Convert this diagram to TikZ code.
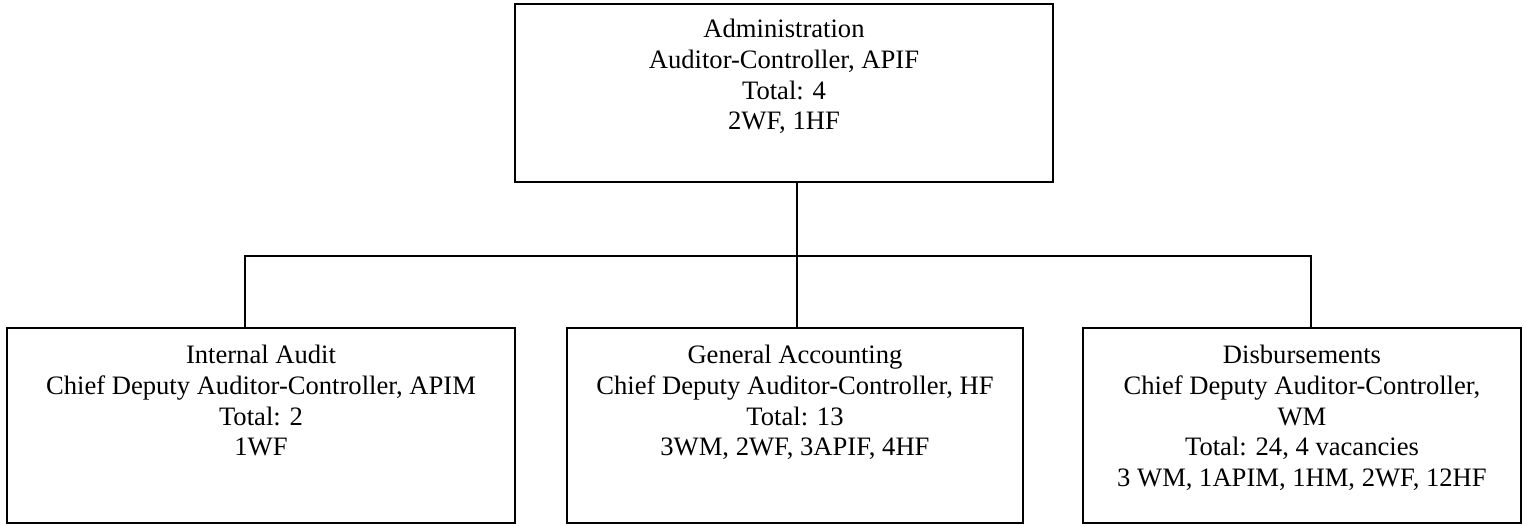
\documentclass[tikz,border=0pt]{standalone}
\usepackage{fontspec}
\setmainfont{Liberation Serif}
\usetikzlibrary{positioning}

\tikzset{
  unitbox/.style={draw, line width=1.4pt, inner sep=0pt},
  unittext/.style={anchor=north, align=center, inner sep=0pt,
    font=\fontsize{26.6}{30.6}\selectfont},
  link/.style={line width=1.4pt}
}

\begin{document}
\begin{tikzpicture}[x=1pt, y=-1pt]
  \useasboundingbox (0,0) rectangle (1527,526);
  % boxes
  \node[unitbox, minimum width=538, minimum height=178] (admin) at (784,93) {};
  \node[unitbox, minimum width=508, minimum height=195] (audit) at (261,425.5) {};
  \node[unitbox, minimum width=456, minimum height=195] (genacc) at (795,425.5) {};
  \node[unitbox, minimum width=438, minimum height=195] (disb) at (1302,425.5) {};
  % texts
  \node[unittext, below=16pt of admin.north] (adminText)
    {Administration\\Auditor-Controller, APIF\\Total: 4\\2WF, 1HF};
  \node[unittext, below=18pt of audit.north] (auditText)
    {Internal Audit\\Chief Deputy Auditor-Controller, APIM\\Total: 2\\1WF};
  \node[unittext, below=18pt of genacc.north] (genaccText)
    {General Accounting\\Chief Deputy Auditor-Controller, HF\\Total: 13\\3WM, 2WF, 3APIF, 4HF};
  \node[unittext, below=18pt of disb.north] (disbText)
    {Disbursements\\Chief Deputy Auditor-Controller,\\WM\\Total: 24, 4 vacancies\\3 WM, 1APIM, 1HM, 2WF, 12HF};
  % connectors
  \coordinate (busL) at (245,256);
  \coordinate (busM) at (797,256);
  \coordinate (busR) at (1311,256);
  \draw[link] (busL |- audit.north) -- (busL) -- (busR) -- (busR |- disb.north);
  \draw[link] (busM |- admin.south) -- (busM |- genacc.north);
\end{tikzpicture}
\end{document}
